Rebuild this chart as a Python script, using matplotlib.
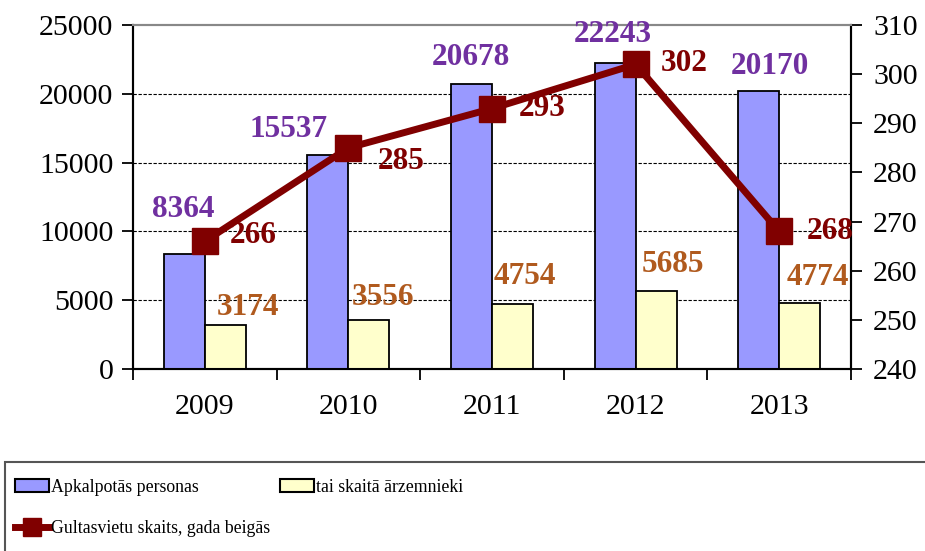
import matplotlib
matplotlib.use("Agg")
import matplotlib.pyplot as plt
import numpy as np
from matplotlib.patches import Rectangle
from matplotlib.lines import Line2D

years = ["2009", "2010", "2011", "2012", "2013"]
served = [8364, 15537, 20678, 22243, 20170]
foreigners = [3174, 3556, 4754, 5685, 4774]
beds = [266, 285, 293, 302, 268]

labels_legend = ["Apkalpotās personas", "tai skaitā ārzemnieki", "Gultasvietu skaits, gada beigās"]

# label offsets in pixels (dx, dy) - style only
off_served = [(-1, 44), (-39, 26), (-1, 27), (-2, 28), (11, 25)]
off_foreign = [(23, 18), (14, 23), (12, 27), (17, 26), (18, 26)]
off_beds = [(48, 6), (53, -14), (50, 0), (49, 1), (51, 0)]

plt.rcParams['font.family'] = ['Liberation Serif', 'DejaVu Serif']

fig = plt.figure(figsize=(9.25, 5.51), dpi=100)
ax = fig.add_axes([133/925, 1-369/551, (851-133)/925, 344/551])
ax2 = ax.twinx()

x = np.arange(len(years))
w = 0.286
ax.bar(x - w/2, served, w, color="#9999FF", edgecolor="black", linewidth=1.3, zorder=3)
ax.bar(x + w/2, foreigners, w, color="#FFFFCC", edgecolor="black", linewidth=1.3, zorder=3)

ax.set_xlim(-0.5, len(years) - 0.5)
ax.set_ylim(0, 25000)
ax.set_yticks(np.arange(0, 25001, 5000))
for yv in [5000, 10000, 15000, 20000]:
    ax.axhline(yv, color="black", linestyle=(0, (3, 1.5)), linewidth=0.8, zorder=1)

tfs = 21.5
ax.set_xticks(np.arange(-0.5, len(years), 1.0))
ax.set_xticklabels([])
ax.set_xticks(x, minor=True)
ax.set_xticklabels(years, minor=True)
ax.tick_params(axis='x', which='major', length=8, width=1.3, direction='out')
ax.tick_params(axis='x', which='minor', length=0, labelsize=tfs, pad=18)
ax.tick_params(axis='y', length=8, width=1.3, labelsize=tfs, pad=6)

ax2.set_ylim(240, 310)
ax2.set_yticks(np.arange(240, 311, 10))
ax2.tick_params(axis='y', length=8, width=1.3, labelsize=tfs, pad=8)

for a in (ax, ax2):
    a.spines['top'].set_color('#888888')
    a.spines['top'].set_linewidth(1.5)
    a.spines['left'].set_linewidth(1.5)
    a.spines['right'].set_linewidth(1.5)
    a.spines['bottom'].set_linewidth(1.5)

ax2.plot(x, beds, color="#800000", linewidth=5, marker='s', markersize=19, zorder=4)

purple = "#7030A0"
brown = "#B05A1E"
red = "#800000"
fs = 22.5
for i in range(len(years)):
    ax2.annotate(str(served[i]), xy=(x[i] - w/2, served[i]), xycoords=ax.transData,
                 xytext=(off_served[i][0]*0.72, off_served[i][1]*0.72), textcoords='offset points',
                 ha='center', va='center', color=purple, fontsize=fs, fontweight='bold', zorder=6)
    ax2.annotate(str(foreigners[i]), xy=(x[i] + w/2, foreigners[i]), xycoords=ax.transData,
                 xytext=(off_foreign[i][0]*0.72, off_foreign[i][1]*0.72), textcoords='offset points',
                 ha='center', va='center', color=brown, fontsize=fs, fontweight='bold', zorder=6)
    ax2.annotate(str(beds[i]), xy=(x[i], beds[i]),
                 xytext=(off_beds[i][0]*0.72, off_beds[i][1]*0.72), textcoords='offset points',
                 ha='center', va='center', color=red, fontsize=fs, fontweight='bold', zorder=6)

# legend frame
fig.patches.append(Rectangle((5/925, -0.2), 1.0, 0.2 + (1 - 462/551), transform=fig.transFigure,
                             fill=False, edgecolor="#555555", linewidth=1.5))

h1 = Rectangle((0, 0), 1, 1, facecolor="#9999FF", edgecolor="black", linewidth=1.5)
h2 = Rectangle((0, 0), 1, 1, facecolor="#FFFFCC", edgecolor="black", linewidth=1.5)
h3 = Line2D([], [], color="#800000", linewidth=5, marker='s', markersize=13)
leg = fig.legend([h1, h3, h2], [labels_legend[0], labels_legend[2], labels_legend[1]],
                 ncol=2, loc='upper left', bbox_to_anchor=(15/925, 1 - 479/551),
                 frameon=False, prop={'family': 'Liberation Serif', 'size': 12.8},
                 handlelength=1.9, handleheight=0.75,
                 handletextpad=0.1, columnspacing=0.6, labelspacing=1.35, borderaxespad=0,
                 borderpad=0)

fig.savefig("out.png", dpi=100)
